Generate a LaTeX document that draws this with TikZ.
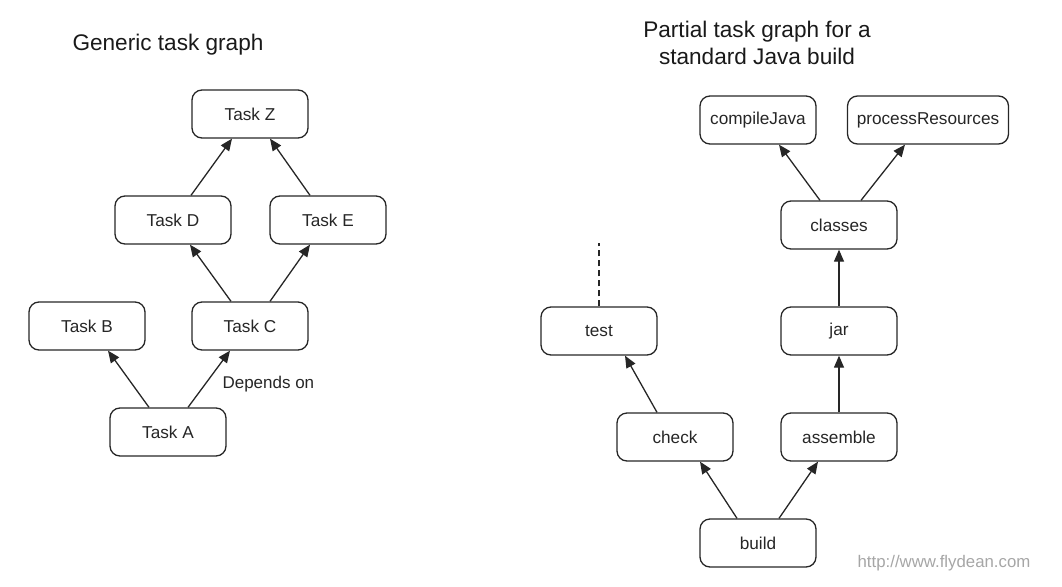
\documentclass[tikz,border=0pt]{standalone}
\usepackage{fontspec}
\setmainfont{Liberation Sans}
\usetikzlibrary{arrows.meta}
\begin{document}
\begin{tikzpicture}[x=1pt,y=-1pt,
  task/.style={draw=black!85, line width=1.3pt, rounded corners=10pt, minimum width=116pt, minimum height=48pt, inner sep=0pt, font=\fontsize{17.2}{18}\selectfont, text=black!85},
  dep/.style={draw=black!85, line width=1.3pt, -{Triangle[length=12pt,width=10pt]}},
  ttl/.style={font=\fontsize{22.6}{27}\selectfont, text=black!90, align=center}]
\useasboundingbox (0,0) rectangle (1062,586);
% left
\node[ttl] (t1) at (168,45) {Generic task graph};
\node[task] (z) at (250,114) {Task Z};
\node[task] (d) at (173,220) {Task D};
\node[task] (e) at (328,220) {Task E};
\node[task] (b) at (87,326) {Task B};
\node[task] (c) at (250,326) {Task C};
\node[task] (a) at (168,432) {Task A};
\node[font=\fontsize{17}{18}\selectfont, text=black!85, anchor=west] (lbl) at (219,384) {Depends on};
\draw[dep] ([xshift=-19pt]a.north) -- ([xshift=21pt]b.south);
\draw[dep] ([xshift=20pt]a.north) -- ([xshift=-20pt]c.south);
\draw[dep] ([xshift=-19pt]c.north) -- ([xshift=17pt]d.south);
\draw[dep] ([xshift=20pt]c.north) -- ([xshift=-18pt]e.south);
\draw[dep] ([xshift=18pt]d.north) -- ([xshift=-18pt]z.south);
\draw[dep] ([xshift=-18pt]e.north) -- ([xshift=20pt]z.south);
% right
\node[ttl] (t2) at (757,43) {Partial task graph for a\\standard Java build};
\node[task] (cj) at (758,120) {compileJava};
\node[task, minimum width=161pt] (pr) at (928,120) {processResources};
\node[task] (cl) at (839,225) {classes};
\node[task] (jar) at (839,331) {jar};
\node[task] (test) at (599,331) {test};
\node[task] (chk) at (675,437) {check};
\node[task] (asm) at (839,437) {assemble};
\node[task] (bld) at (758,543) {build};
\coordinate (up) at (599,243);
\draw[draw=black!85, line width=1.3pt, dash pattern=on 6pt off 4pt] (test.north) -- (up);
\draw[dep] ([xshift=-19pt]cl.north) -- ([xshift=21pt]cj.south);
\draw[dep] ([xshift=22pt]cl.north) -- ([xshift=-23pt]pr.south);
\draw[dep] (jar.north) -- (cl.south);
\draw[dep] (asm.north) -- (jar.south);
\draw[dep] ([xshift=-18pt]chk.north) -- ([xshift=26pt]test.south);
\draw[dep] ([xshift=-21pt]bld.north) -- ([xshift=25pt]chk.south);
\draw[dep] ([xshift=21pt]bld.north) -- ([xshift=-21pt]asm.south);
\node[font=\fontsize{16.8}{18}\selectfont, text=black!35] (wm) at (944,563) {http://www.flydean.com};
\end{tikzpicture}
\end{document}
